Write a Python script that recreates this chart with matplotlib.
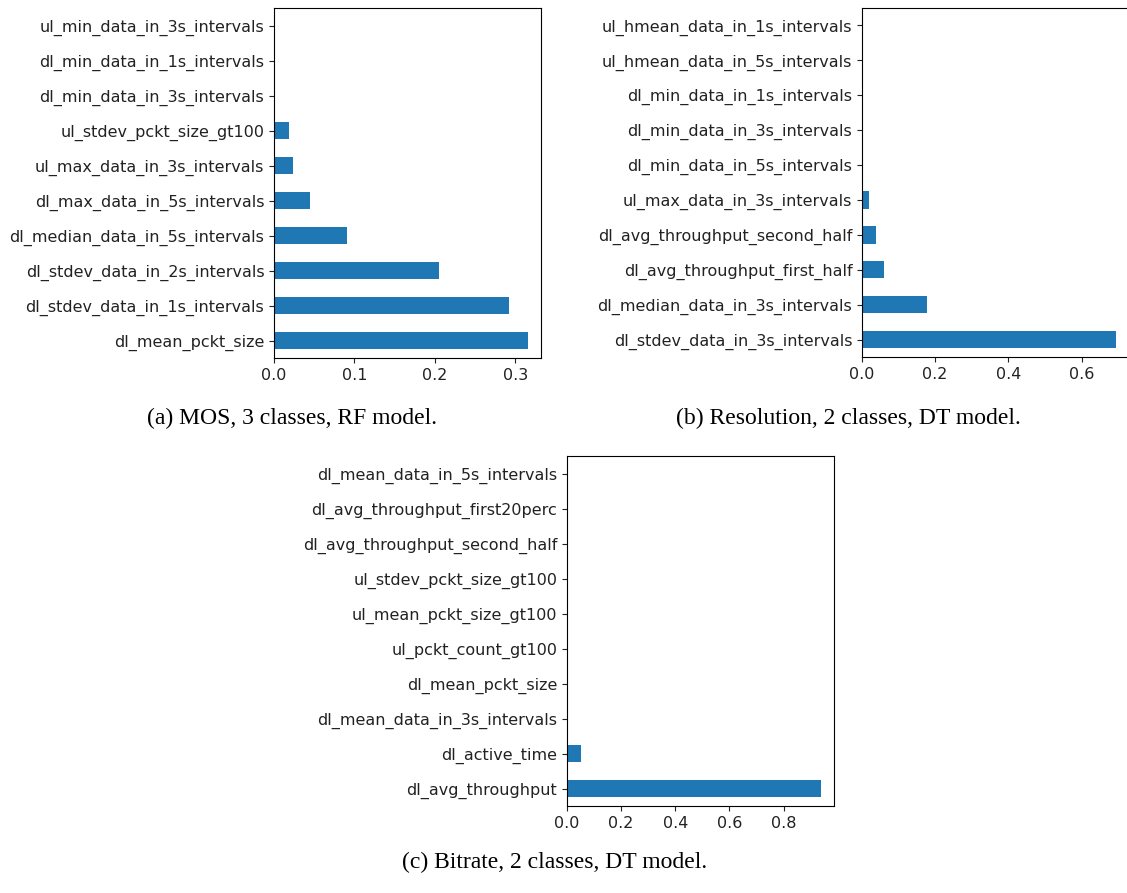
import matplotlib
matplotlib.use("Agg")
from matplotlib import pyplot as plt

# feature importances, listed bottom bar first
mos_features = ["dl_mean_pckt_size", "dl_stdev_data_in_1s_intervals",
                "dl_stdev_data_in_2s_intervals", "dl_median_data_in_5s_intervals",
                "dl_max_data_in_5s_intervals", "ul_max_data_in_3s_intervals",
                "ul_stdev_pckt_size_gt100", "dl_min_data_in_3s_intervals",
                "dl_min_data_in_1s_intervals", "ul_min_data_in_3s_intervals"]
mos_values = [0.316, 0.292, 0.205, 0.0905, 0.045, 0.023, 0.019, 0.0, 0.0, 0.0]

res_features = ["dl_stdev_data_in_3s_intervals", "dl_median_data_in_3s_intervals",
                "dl_avg_throughput_first_half", "dl_avg_throughput_second_half",
                "ul_max_data_in_3s_intervals", "dl_min_data_in_5s_intervals",
                "dl_min_data_in_3s_intervals", "dl_min_data_in_1s_intervals",
                "ul_hmean_data_in_5s_intervals", "ul_hmean_data_in_1s_intervals"]
res_values = [0.695, 0.178, 0.059, 0.037, 0.020, 0.0, 0.0, 0.0, 0.0, 0.0]

br_features = ["dl_avg_throughput", "dl_active_time",
               "dl_mean_data_in_3s_intervals", "dl_mean_pckt_size",
               "ul_pckt_count_gt100", "ul_mean_pckt_size_gt100",
               "ul_stdev_pckt_size_gt100", "dl_avg_throughput_second_half",
               "dl_avg_throughput_first20perc", "dl_mean_data_in_5s_intervals"]
br_values = [0.939, 0.053, 0.002, 0.0, 0.0, 0.0, 0.0, 0.0, 0.0, 0.0]

captions = ["(a) MOS, 3 classes, RF model.",
            "(b) Resolution, 2 classes, DT model.",
            "(c) Bitrate, 2 classes, DT model."]

W, H = 1127, 893
fig = plt.figure(figsize=(W / 100, H / 100), dpi=100)


def px_axes(left, top, right, bottom):
    return fig.add_axes([left / W, 1 - bottom / H, (right - left) / W, (bottom - top) / H])


def draw(ax, names, vals):
    ypos = list(range(len(vals)))
    ax.barh(ypos, vals, height=0.5, color="#1f77b4")
    ax.set_yticks(ypos)
    ax.set_yticklabels(names)
    ax.set_ylim(-0.5, len(vals) - 0.5)
    ax.tick_params(labelsize=11.5, colors="#222222", labelcolor="#222222")


ax1 = px_axes(274, 8, 541, 358)
draw(ax1, mos_features, mos_values)
ax1.set_xticks([0.0, 0.1, 0.2, 0.3])

# right edge of panel (b) runs past the picture, as in the source
ax2 = px_axes(862, 8, 1129, 357)
draw(ax2, res_features, res_values)
ax2.set_xticks([0.0, 0.2, 0.4, 0.6])

ax3 = px_axes(567, 456, 834, 806)
draw(ax3, br_features, br_values)
ax3.set_xticks([0.0, 0.2, 0.4, 0.6, 0.8])

cap_font = dict(family="Liberation Serif", fontsize=17, ha="center", va="center")
fig.text(292 / W, 1 - 418 / H, captions[0], **cap_font)
fig.text(848 / W, 1 - 418 / H, captions[1], **cap_font)
fig.text(555 / W, 1 - 862 / H, captions[2], **cap_font)

fig.savefig("out.png", dpi=100)
